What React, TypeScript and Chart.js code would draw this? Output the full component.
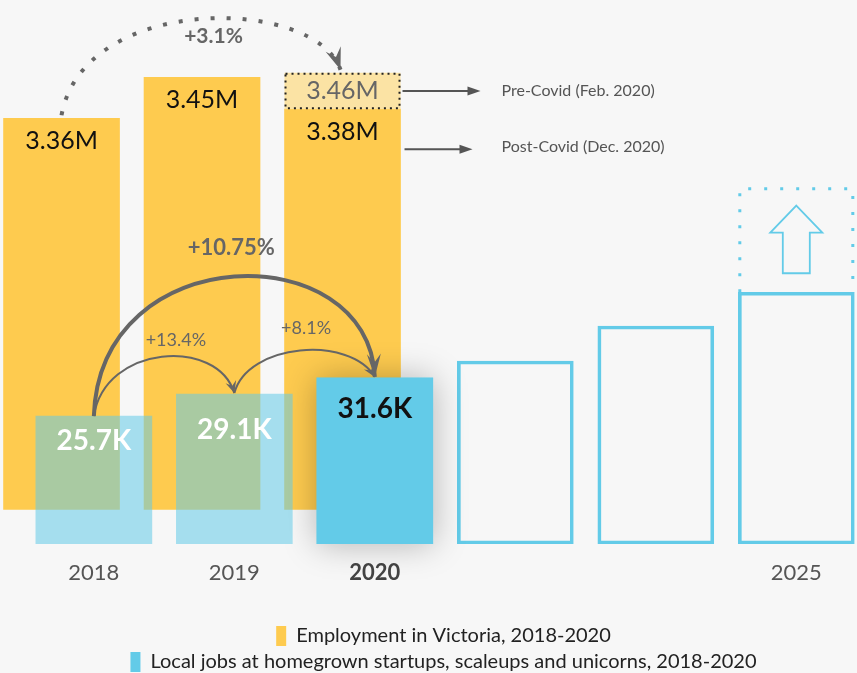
import React, { useEffect, useRef } from 'react';
import { Chart, registerables } from 'chart.js';

Chart.register(...registerables);

// ---------- data ----------
const YEAR_LABELS = ['2018', '2019', '2020', '', '', '2025'];
const EMPLOYMENT_M = [3.36, 3.45, 3.38];
const EMPLOYMENT_PRE_COVID_2020_M = 3.46;
const EMPLOYMENT_BASE_M = 2.5;
const LOCAL_JOBS_K = [25.7, 29.1, 31.6];
const PROJECTED_JOBS_K = [34.2, 39.6, 44.8];
const TARGET_2025_K = 61;
const JOBS_BASE_K = 6;
const JOB_GROWTH = ['+13.4%', '+8.1%', '+10.75%'];
const EMPLOYMENT_GROWTH = '+3.1%';
const SERIES_NAMES = [
  'Employment in Victoria, 2018-2020',
  'Local jobs at homegrown startups, scaleups and unicorns, 2018-2020',
];
const COVID_NOTES = ['Pre-Covid (Feb. 2020)', 'Post-Covid (Dec. 2020)'];

// ---------- style / layout constants ----------
const FONT = 'Lato, "Noto Sans", sans-serif';
const YELLOW = '#fecb4f';
const BLUE = '#63cbe8';
const BLUE_SOFT = 'rgba(99, 203, 232, 0.55)';
const GRAY = '#666666';
const YELLOW_SHIFT = -0.23;
const BAR_PX = 116;

type P = { x: number; y: number };

function bez(p0: P, p1: P, p2: P, p3: P, t: number): P {
  const u = 1 - t;
  return {
    x: u * u * u * p0.x + 3 * u * u * t * p1.x + 3 * u * t * t * p2.x + t * t * t * p3.x,
    y: u * u * u * p0.y + 3 * u * u * t * p1.y + 3 * u * t * t * p2.y + t * t * t * p3.y,
  };
}

function barbHead(ctx: CanvasRenderingContext2D, tip: P, angle: number, len: number, half: number, color: string) {
  ctx.save();
  ctx.translate(tip.x, tip.y);
  ctx.rotate(angle);
  ctx.beginPath();
  ctx.moveTo(0, 0);
  ctx.lineTo(-len, -half);
  ctx.lineTo(-len * 0.62, 0);
  ctx.lineTo(-len, half);
  ctx.closePath();
  ctx.fillStyle = color;
  ctx.fill();
  ctx.restore();
}

function curve(
  ctx: CanvasRenderingContext2D, p0: P, p1: P, p2: P, p3: P,
  width: number, dash: number[], headLen: number, headHalf: number,
) {
  ctx.save();
  ctx.strokeStyle = GRAY;
  ctx.lineWidth = width;
  ctx.setLineDash(dash);
  ctx.lineCap = 'butt';
  ctx.beginPath();
  ctx.moveTo(p0.x, p0.y);
  ctx.bezierCurveTo(p1.x, p1.y, p2.x, p2.y, p3.x, p3.y);
  ctx.stroke();
  ctx.restore();
  barbHead(ctx, p3, Math.atan2(p3.y - p2.y, p3.x - p2.x), headLen, headHalf, GRAY);
}

function text(ctx: CanvasRenderingContext2D, s: string, x: number, y: number, font: string, color: string, align: CanvasTextAlign = 'center') {
  ctx.save();
  ctx.font = font;
  ctx.fillStyle = color;
  ctx.textAlign = align;
  ctx.textBaseline = 'middle';
  ctx.fillText(s, x, y);
  ctx.restore();
}

function straightArrow(ctx: CanvasRenderingContext2D, x0: number, x1: number, y: number) {
  ctx.save();
  ctx.strokeStyle = '#555';
  ctx.lineWidth = 2;
  ctx.beginPath();
  ctx.moveTo(x0, y);
  ctx.lineTo(x1 - 8, y);
  ctx.stroke();
  ctx.beginPath();
  ctx.moveTo(x1, y);
  ctx.lineTo(x1 - 13, y - 4.5);
  ctx.lineTo(x1 - 13, y + 4.5);
  ctx.closePath();
  ctx.fillStyle = '#555';
  ctx.fill();
  ctx.restore();
}

const annotate = {
  id: 'annotate',
  afterLayout(chart: any) {
    const lg = chart.legend;
    if (lg) {
      lg.left += 15;
      lg.right += 15;
    }
  },
  beforeDatasetDraw(chart: any, args: any) {
    if (args.index !== 1) return;
    const el = args.meta.data[2];
    if (!el) return;
    const ctx = chart.ctx as CanvasRenderingContext2D;
    ctx.save();
    ctx.shadowColor = 'rgba(0,0,0,0.28)';
    ctx.shadowBlur = 32;
    ctx.fillStyle = BLUE;
    ctx.fillRect(el.x - el.width / 2, el.y, el.width, el.base - el.y);
    ctx.restore();
  },
  afterDatasetsDraw(chart: any) {
    const ctx = chart.ctx as CanvasRenderingContext2D;
    const y = chart.scales.y;
    const y2 = chart.scales.y2;
    const yb = chart.getDatasetMeta(0).data;
    const bb = chart.getDatasetMeta(1).data;
    const ob = chart.getDatasetMeta(2).data;
    const w = yb[2].width;

    // --- pre-covid box ---
    const bx0 = yb[2].x - w / 2;
    const bx1 = yb[2].x + w / 2;
    const bTop = y2.getPixelForValue(EMPLOYMENT_PRE_COVID_2020_M);
    const bBot = yb[2].y;
    ctx.save();
    ctx.fillStyle = '#fbe3a4';
    ctx.fillRect(bx0, bTop, w, bBot - bTop);
    ctx.strokeStyle = '#222';
    ctx.lineWidth = 2;
    ctx.setLineDash([2, 4]);
    ctx.strokeRect(bx0 + 1, bTop + 1, w - 2, bBot - bTop - 2);
    ctx.restore();
    const bMid = (bTop + bBot) / 2;
    text(ctx, EMPLOYMENT_PRE_COVID_2020_M.toFixed(2) + 'M', yb[2].x, bMid, `25px ${FONT}`, GRAY);

    // --- employment labels ---
    EMPLOYMENT_M.forEach((v, i) => {
      text(ctx, v.toFixed(2) + 'M', yb[i].x, yb[i].y + 23, `25px ${FONT}`, '#111');
    });

    // --- covid notes ---
    straightArrow(ctx, bx1 + 2, bx1 + 80, bMid);
    text(ctx, COVID_NOTES[0], bx1 + 101, bMid, `16px ${FONT}`, '#555', 'left');
    const postY = yb[2].y + 40;
    straightArrow(ctx, bx1 + 4, bx1 + 72, postY);
    text(ctx, COVID_NOTES[1], bx1 + 101, postY - 2, `16px ${FONT}`, '#555', 'left');

    // --- dotted +3.1% arc ---
    const s0 = { x: yb[0].x, y: yb[0].y - 3 };
    const e0 = { x: yb[2].x - 2, y: bTop - 3 };
    const c1 = { x: s0.x + 22, y: s0.y - 122 };
    const c2 = { x: e0.x - 26, y: e0.y - 74 };
    curve(ctx, s0, c1, c2, e0, 4, [4, 12], 22, 8);
    const m0 = bez(s0, c1, c2, e0, 0.5);
    text(ctx, EMPLOYMENT_GROWTH, m0.x + 14, m0.y + 17, `bold 21px ${FONT}`, GRAY);

    // --- jobs arcs ---
    const a0 = { x: bb[0].x, y: bb[0].y };
    const a1 = { x: bb[1].x, y: bb[1].y - 1 };
    const a2 = { x: bb[2].x, y: bb[2].y - 1 };
    // big arc
    const g1 = { x: a0.x + 6, y: a0.y - 179 };
    const g2 = { x: a2.x - 6, y: a2.y - 141 };
    curve(ctx, a0, g1, g2, a2, 4, [], 23, 7);
    const gm = bez(a0, g1, g2, a2, 0.5);
    text(ctx, JOB_GROWTH[2], gm.x - 3, gm.y - 29, `bold 22px ${FONT}`, GRAY);
    // small arc 1
    const h1 = { x: a0.x + 11, y: a0.y - 72 };
    const h2 = { x: a1.x - 17, y: a1.y - 56 };
    curve(ctx, a0, h1, h2, a1, 2, [], 12, 5.5);
    const hm = bez(a0, h1, h2, a1, 0.5);
    text(ctx, JOB_GROWTH[0], hm.x + 14, hm.y - 16, `18px ${FONT}`, GRAY);
    // small arc 2
    const k1 = { x: a1.x + 13, y: a1.y - 50 };
    const k2 = { x: a2.x - 25, y: a2.y - 42 };
    curve(ctx, a1, k1, k2, a2, 2, [], 12, 5.5);
    const km = bez(a1, k1, k2, a2, 0.5);
    text(ctx, JOB_GROWTH[1], km.x + 6, km.y - 22, `18px ${FONT}`, GRAY);

    // --- jobs labels ---
    const offs = [25, 36, 31];
    LOCAL_JOBS_K.forEach((v, i) => {
      text(ctx, v.toFixed(1) + 'K', bb[i].x, bb[i].y + offs[i], `bold 28px ${FONT}`, i === 2 ? '#111' : '#fff');
    });

    // --- 2025 target box ---
    const last = ob[ob.length - 1];
    const tx0 = last.x - last.width / 2 + 1.5;
    const tx1 = last.x + last.width / 2 - 1.5;
    const tTop = y.getPixelForValue(TARGET_2025_K) + 1.5;
    const tBot = last.y;
    ctx.save();
    ctx.strokeStyle = BLUE;
    ctx.lineWidth = 3;
    ctx.setLineDash([3, 13]);
    ctx.beginPath();
    ctx.moveTo(tx0, tBot);
    ctx.lineTo(tx0, tTop);
    ctx.lineTo(tx1, tTop);
    ctx.lineTo(tx1, tBot);
    ctx.stroke();
    ctx.restore();
    // up arrow
    const ax = last.x;
    const aTop = tTop + 17;
    const aBot = tBot - 19;
    const hb = aTop + 27;
    ctx.save();
    ctx.strokeStyle = BLUE;
    ctx.lineWidth = 1.8;
    ctx.beginPath();
    ctx.moveTo(ax, aTop);
    ctx.lineTo(ax + 26, hb);
    ctx.lineTo(ax + 13.5, hb);
    ctx.lineTo(ax + 13.5, aBot);
    ctx.lineTo(ax - 13.5, aBot);
    ctx.lineTo(ax - 13.5, hb);
    ctx.lineTo(ax - 26, hb);
    ctx.closePath();
    ctx.stroke();
    ctx.restore();
  },
};

export default function App() {
  const ref = useRef<HTMLCanvasElement>(null);

  useEffect(() => {
    const chart = new Chart(ref.current as HTMLCanvasElement, {
      type: 'bar',
      data: {
        datasets: [
          {
            label: SERIES_NAMES[0],
            data: EMPLOYMENT_M.map((v, i) => ({ x: i + YELLOW_SHIFT, y: v })),
            yAxisID: 'y2',
            base: EMPLOYMENT_BASE_M,
            backgroundColor: YELLOW,
            barThickness: BAR_PX,
            order: 3,
          },
          {
            label: SERIES_NAMES[1],
            data: LOCAL_JOBS_K.map((v, i) => ({ x: i, y: v })),
            yAxisID: 'y',
            base: JOBS_BASE_K,
            backgroundColor: LOCAL_JOBS_K.map((_, i) => (i === 2 ? BLUE : BLUE_SOFT)),
            barThickness: BAR_PX,
            order: 1,
          },
          {
            label: 'Projected',
            data: PROJECTED_JOBS_K.map((v, i) => ({ x: i + LOCAL_JOBS_K.length, y: v })),
            yAxisID: 'y',
            base: JOBS_BASE_K,
            backgroundColor: 'rgba(0,0,0,0)',
            borderColor: BLUE,
            borderWidth: 3,
            borderSkipped: false,
            barThickness: BAR_PX,
            order: 2,
          },
        ] as any,
      },
      options: {
        animation: false,
        responsive: true,
        maintainAspectRatio: false,
        layout: { padding: { top: 10, bottom: -9, left: 0, right: 0 } },
        plugins: {
          tooltip: { enabled: false },
          legend: {
            position: 'bottom',
            onClick: () => {},
            labels: {
              boxWidth: 10,
              boxHeight: 20,
              padding: 6,
              color: '#222',
              font: { family: FONT, size: 20 },
              generateLabels: () =>
                SERIES_NAMES.map((t, i) => ({
                  text: t,
                  fillStyle: i === 0 ? YELLOW : BLUE,
                  strokeStyle: 'rgba(0,0,0,0)',
                  lineWidth: 0,
                  hidden: false,
                  datasetIndex: i,
                  fontColor: '#222',
                })),
            },
          },
        },
        scales: {
          x: {
            type: 'linear',
            min: -0.668,
            max: 5.432,
            stacked: true,
            offset: false,
            grid: { display: false, drawTicks: false },
            border: { display: false },
            afterBuildTicks: (s: any) => {
              s.ticks = YEAR_LABELS.map((_, i) => ({ value: i }));
            },
            afterFit: (s: any) => {
              s.height = 76;
            },
            ticks: {
              autoSkip: false,
              maxRotation: 0,
              padding: 16,
              callback: (_v: any, i: number) => YEAR_LABELS[i],
              font: (c: any) => ({ family: FONT, size: 22, weight: c.index === 2 ? 'bold' : 'normal' }),
              color: (c: any) => (c.index === 2 ? '#444' : '#555'),
            },
          },
          y: { type: 'linear', display: false, min: JOBS_BASE_K, max: 88.3, stacked: false },
          y2: { type: 'linear', display: false, min: 2.424, max: 3.598, stacked: false },
        },
      } as any,
      plugins: [annotate],
    });
    return () => chart.destroy();
  }, []);

  return (
    <div style={{ position: 'fixed', left: 0, top: 0, width: 857, height: 673, background: '#f7f7f7' }}>
      <canvas ref={ref} />
    </div>
  );
}
